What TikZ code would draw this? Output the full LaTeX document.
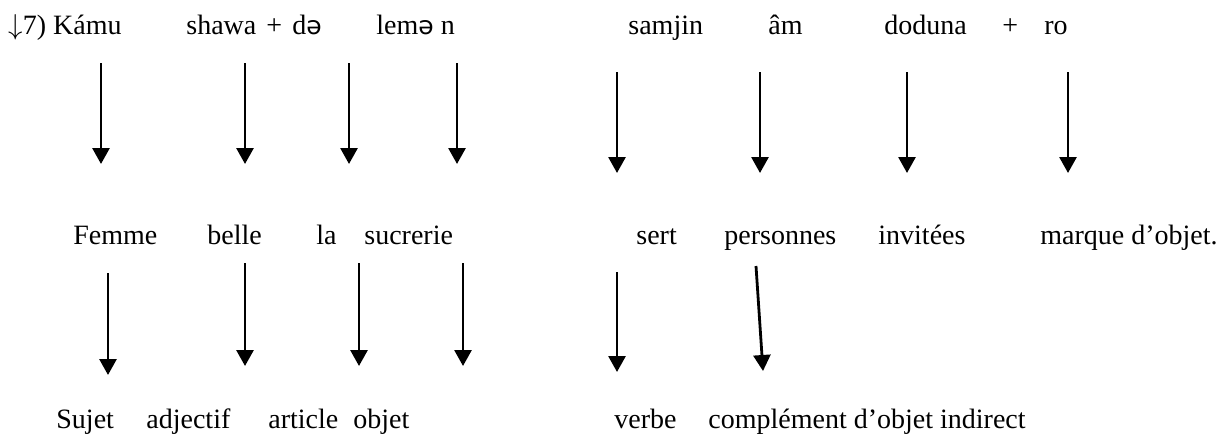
\documentclass[tikz,border=0pt]{standalone}
\usepackage{fontspec}
\setmainfont{Liberation Serif}
\newfontfamily\schwafont{DejaVu Sans}
\usetikzlibrary{arrows.meta}
\newcommand{\shwa}{{\schwafont\fontsize{12.5}{14}\selectfont ə}}
\tikzset{
  word/.style={anchor=base west, inner sep=0pt, font=\fontsize{14}{16}\selectfont},
  down/.style={-{Triangle[width=8.5pt,length=8pt]}, line width=1.4pt},
}
\begin{document}
\begin{tikzpicture}[x=0.5pt,y=-0.5pt]
\useasboundingbox (0,0) rectangle (1225,445);
% Kamu words
\node[word] (kamu) at (8,34) {$\downarrow$7) Kámu};
\node[word] (shawa) at (186,34) {shawa};
\node[word] (plusa) at (266,34) {+};
\node[word] (de) at (292,34) {d\shwa};
\node[word] (lemen) at (376,34) {lem\shwa{} n};
\node[word] (samjin) at (628,34) {samjin};
\node[word] (am) at (768,34) {âm};
\node[word] (doduna) at (884,34) {doduna};
\node[word] (plusb) at (1002,34) {+};
\node[word] (ro) at (1044,34) {ro};
% traduction
\node[word] (femme) at (73,244) {Femme};
\node[word] (belle) at (207,244) {belle};
\node[word] (la) at (316,244) {la};
\node[word] (sucrerie) at (364,244) {sucrerie};
\node[word] (sert) at (636,244) {sert};
\node[word] (personnes) at (724,244) {personnes};
\node[word] (invitees) at (878,244) {invitées};
\node[word] (marque) at (1040,244) {marque d’objet.};
% fonctions
\node[word] (sujet) at (56,428) {Sujet};
\node[word] (adjectif) at (146,428) {adjectif};
\node[word] (article) at (268,428) {article};
\node[word] (objet) at (353,428) {objet};
\node[word] (verbe) at (614,428) {verbe};
\node[word] (coi) at (708,428) {complément d’objet indirect};
% arrows
\foreach \n/\xa/\ya/\xb/\yb in {a/101/63/101/164, b/245/63/245/164, c/349/63/349/164, d/457/63/457/164,
    e/617/72/617/173, f/760/72/760/173, g/907/72/907/173, h/1068/72/1068/173,
    i/108/273/108/375, j/245/263/245/366, k/359/263/359/366, l/463/263/463/366,
    m/617/272/617/372, n/756/266/763/371} {
  \coordinate (t\n) at (\xa,\ya);
  \coordinate (h\n) at (\xb,\yb);
  \draw[down] (t\n) -- (h\n);
}
\end{tikzpicture}
\end{document}
